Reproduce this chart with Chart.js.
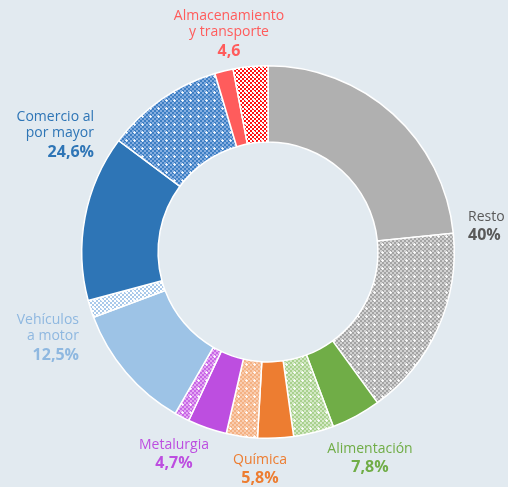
<!DOCTYPE html>
<html>
<head>
<meta charset="utf-8">
<script src="https://cdn.jsdelivr.net/npm/chart.js@4"></script>
<style>
  html, body { margin: 0; padding: 0; background: #e2eaf0; }
  #wrap { width: 508px; height: 487px; }
</style>
</head>
<body>
<div id="wrap"><canvas id="chart" width="508" height="487"></canvas></div>
<script>
// sectors clockwise from 12 o'clock, each split into a solid part and a hatched part
var sectors = ['Resto', 'Alimentación', 'Química', 'Metalurgia', 'Vehículos a motor', 'Comercio al por mayor', 'Almacenamiento y transporte'];
var solidPart = [23.4, 4.3, 3.1, 3.4, 11.0, 14.4, 1.6];
var hatchPart = [16.6, 3.5, 2.7, 1.3, 1.5, 10.2, 3.0];
var shareText = ['40%', '7,8%', '5,8%', '4,7%', '12,5%', '24,6%', '4,6'];

var solidColors = ['#b0b0b0', '#70ad47', '#ed7d31', '#bd4ee0', '#9dc3e6', '#2e75b6', '#ff5c5c'];
var hatchA = ['#a4a4a4', '#a9d18e', '#f4b183', '#c867e6', '#a9c9ea', '#3d7fc4', '#ff1010'];
var hatchB = ['#d2d2d2', '#d3e8c5', '#f9cdb0', '#e3a6f2', '#ffffff', '#86aee0', '#ffffff'];
var textColors = ['#595959', '#70ad47', '#ed7d31', '#bd4ee0', '#8fb8e0', '#2e75b6', '#ff5c5c'];

function makeHatch(a, b) {
    var t = document.createElement('canvas');
    t.width = 8; t.height = 8;
    var c = t.getContext('2d');
    for (var y = 0; y < 8; y += 2) {
        for (var x = 0; x < 8; x += 2) {
            c.fillStyle = ((x + y) / 2) % 2 ? b : a;
            c.fillRect(x, y, 2, 2);
        }
    }
    c.fillStyle = 'rgba(255,255,255,0.8)';
    c.fillRect(5, 4, 3, 1);
    c.fillRect(6, 3, 1, 3);
    return document.getElementById('chart').getContext('2d').createPattern(t, 'repeat');
}

var values = [], fills = [], names = [];
for (var i = 0; i < sectors.length; i++) {
    values.push(solidPart[i], hatchPart[i]);
    fills.push(solidColors[i], makeHatch(hatchA[i], hatchB[i]));
    names.push(sectors[i], sectors[i]);
}

// label placement (layout only)
var labelSpots = [
    { x: 468, y: 217, align: 'left',   lines: ['Resto'] },
    { x: 370, y: 449, align: 'center', lines: ['Alimentación'] },
    { x: 260, y: 460, align: 'center', lines: ['Química'] },
    { x: 174, y: 445, align: 'center', lines: ['Metalurgia'] },
    { x: 79,  y: 320, align: 'right',  lines: ['Vehículos', 'a motor'] },
    { x: 94,  y: 117, align: 'right',  lines: ['Comercio al', 'por mayor'] },
    { x: 229, y: 16,  align: 'center', lines: ['Almacenamiento', 'y transporte'] }
];

var labelPlugin = {
    id: 'sectorLabels',
    afterDraw: function(chart) {
        var ctx = chart.ctx;
        ctx.save();
        ctx.textBaseline = 'middle';
        for (var i = 0; i < labelSpots.length; i++) {
            var s = labelSpots[i];
            ctx.textAlign = s.align;
            ctx.fillStyle = textColors[i];
            ctx.font = '14px "Open Sans"';
            var y = s.y;
            for (var j = 0; j < s.lines.length; j++) {
                ctx.fillText(s.lines[j], s.x, y);
                y += 16.5;
            }
            ctx.font = 'bold 16px "Open Sans"';
            ctx.fillText(shareText[i], s.x, y + 2);
        }
        ctx.restore();
    }
};

new Chart(document.getElementById('chart'), {
    type: 'doughnut',
    data: {
        labels: names,
        datasets: [{
            data: values,
            backgroundColor: fills,
            borderColor: '#ffffff',
            borderWidth: 1.5
        }]
    },
    options: {
        responsive: false,
        animation: false,
        cutout: '59%',
        layout: { padding: { left: 81, right: 53, top: 65, bottom: 48 } },
        plugins: { legend: { display: false }, tooltip: { enabled: false } }
    },
    plugins: [labelPlugin]
});
</script>
</body>
</html>
